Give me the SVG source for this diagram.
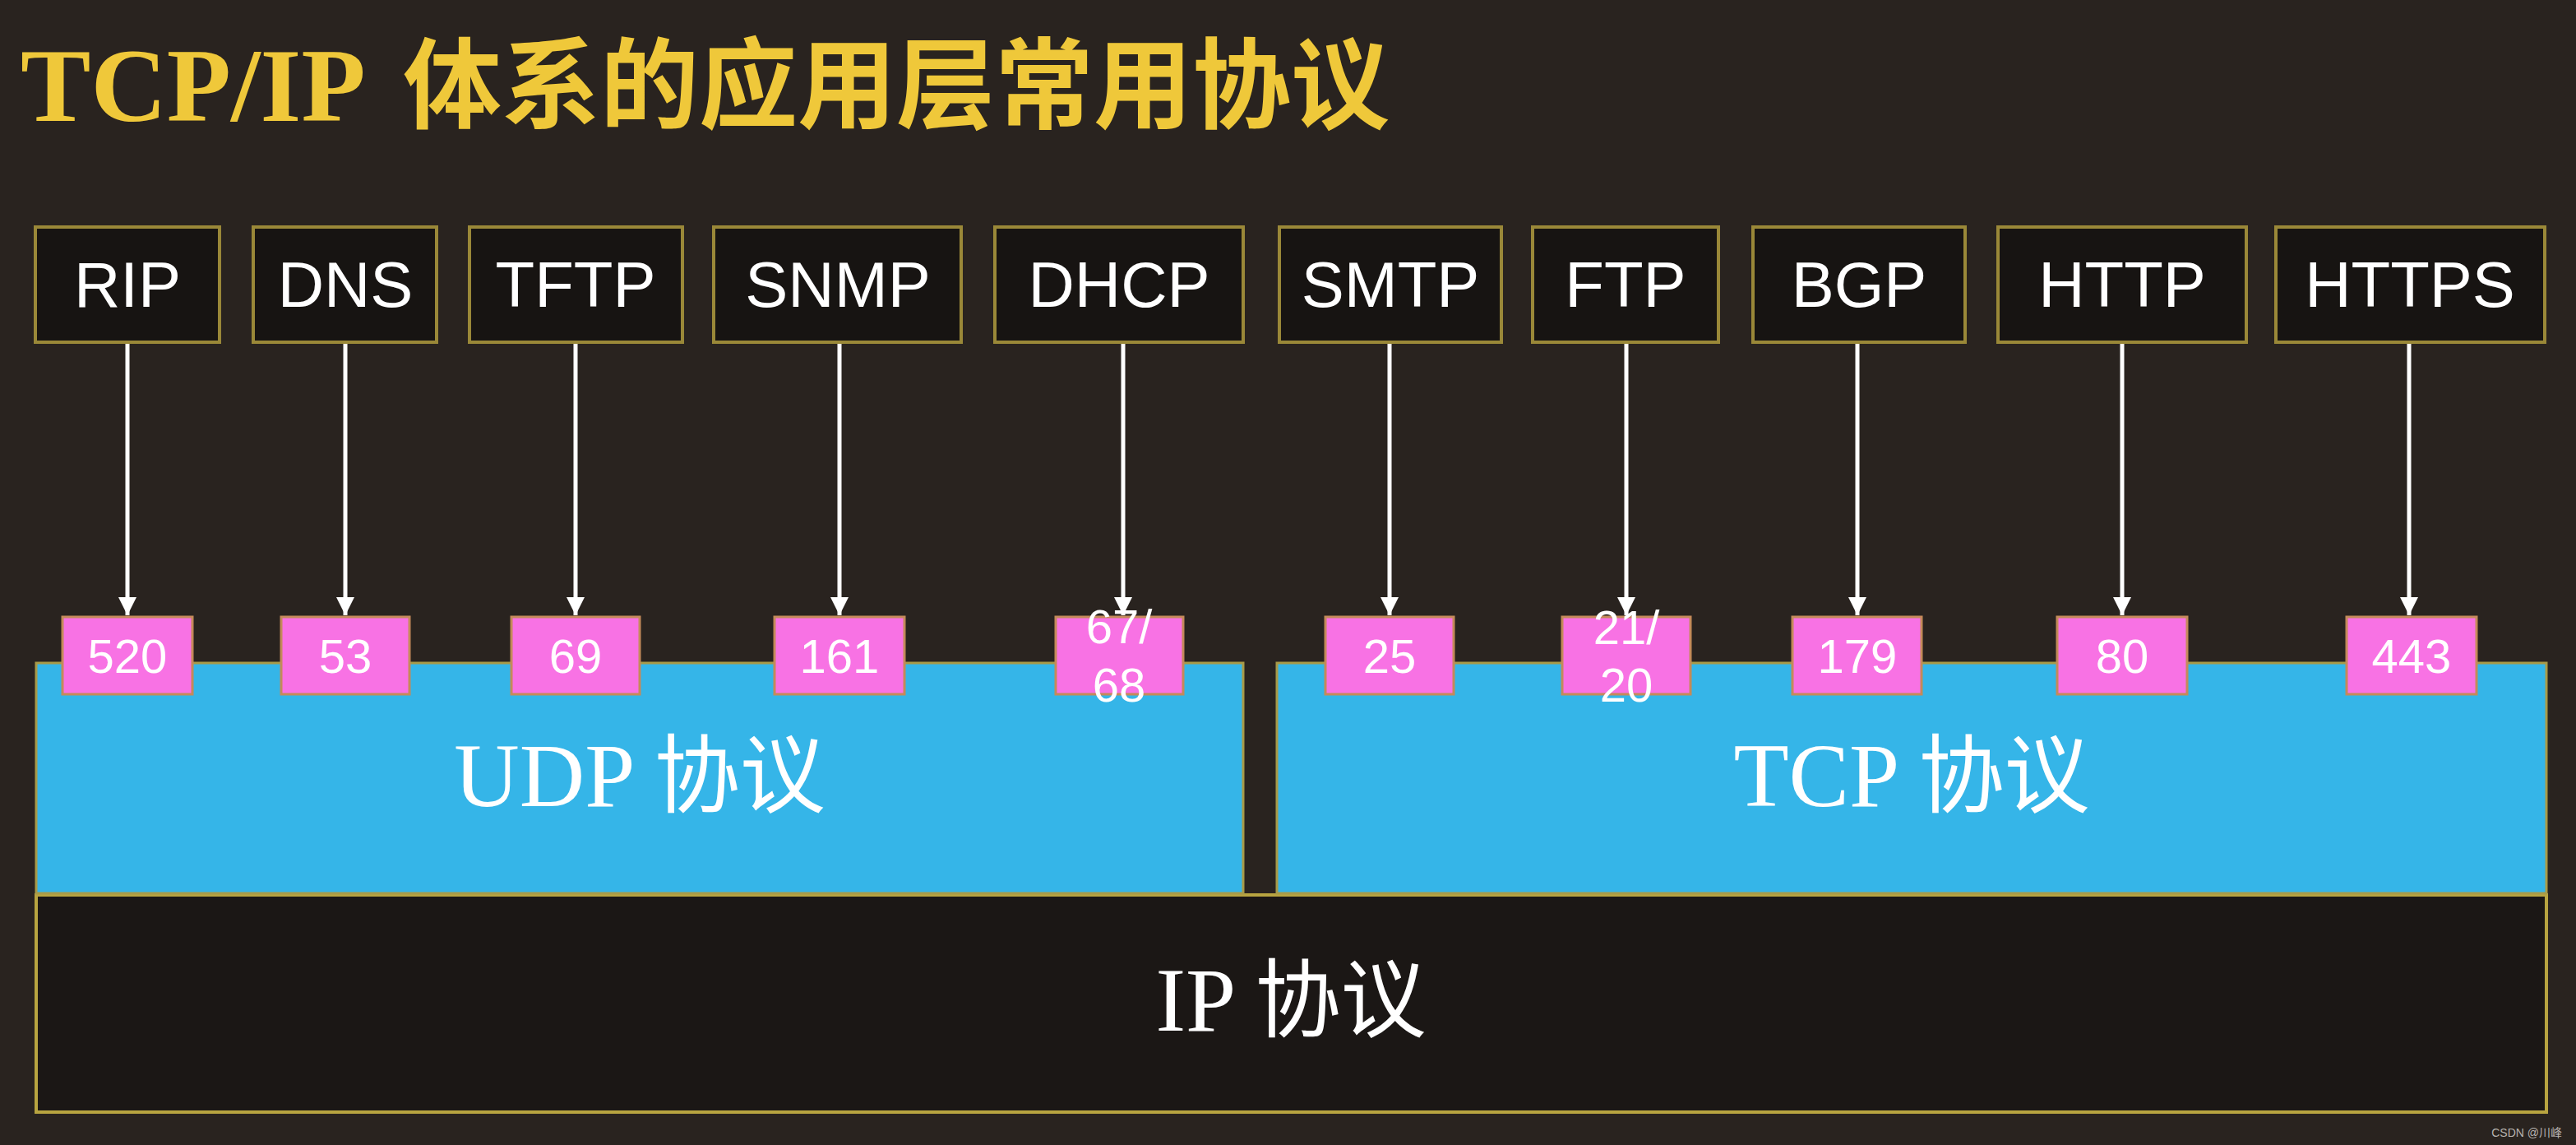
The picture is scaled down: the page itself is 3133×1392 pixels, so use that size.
<svg xmlns="http://www.w3.org/2000/svg" width="3133" height="1392" viewBox="0 0 3133 1392">
<defs>
<style>
.node rect{fill:#171412;stroke:#9a8838;stroke-width:4}
.node text{fill:#ffffff;font-family:"Liberation Sans",Arial,sans-serif;font-size:78px;text-anchor:middle}
.port rect{fill:#f872e4;stroke:#c48a5a;stroke-width:3}
.port text{fill:#ffffff;font-family:"Liberation Sans",Arial,sans-serif;font-size:58px;text-anchor:middle}
.layer{fill:#35b5e8;stroke:#a89a48;stroke-width:3}
.lbl{fill:#ffffff;font-family:"Liberation Serif","Noto Sans CJK SC",serif;font-size:110px;text-anchor:middle}
.cjk{font-family:"Noto Sans CJK SC",sans-serif;font-size:104px}
.conn line{stroke:#ffffff;stroke-width:5;marker-end:url(#ah)}
</style>
<marker id="ah" viewBox="0 0 10 10" refX="10" refY="5" markerWidth="4.4" markerHeight="4.4" markerUnits="strokeWidth" orient="auto">
<path d="M0,0 L10,5 L0,10 z" fill="#ffffff"/>
</marker>
</defs>
<rect width="3133" height="1392" fill="#29231f"/>
<g id="title">
<text x="25" y="147" fill="#efc83a" font-family="Liberation Serif,serif" font-weight="bold" font-size="128">TCP/IP<tspan x="490" font-family="Noto Sans CJK SC,sans-serif" font-size="120">体系的应用层常用协议</tspan></text>
</g>
<g id="ip-layer">
<rect x="44" y="1088" width="3053" height="264" fill="#1b1715" stroke="#b8a440" stroke-width="4"/>
<text class="lbl" x="1570" y="1253">IP <tspan class="cjk">协议</tspan></text>
</g>
<g id="udp-layer">
<rect class="layer" x="44" y="806" width="1468" height="280"/>
<text class="lbl" x="778" y="980">UDP <tspan class="cjk">协议</tspan></text>
</g>
<g id="tcp-layer">
<rect class="layer" x="1553" y="806" width="1544" height="280"/>
<text class="lbl" x="2325" y="980">TCP <tspan class="cjk">协议</tspan></text>
</g>
<g id="n-rip" class="node"><rect x="43" y="276" width="224" height="140"/><text x="155" y="373">RIP</text></g>
<g id="n-dns" class="node"><rect x="308" y="276" width="223" height="140"/><text x="420" y="373">DNS</text></g>
<g id="n-tftp" class="node"><rect x="571" y="276" width="259" height="140"/><text x="700" y="373">TFTP</text></g>
<g id="n-snmp" class="node"><rect x="868" y="276" width="301" height="140"/><text x="1019" y="373">SNMP</text></g>
<g id="n-dhcp" class="node"><rect x="1210" y="276" width="302" height="140"/><text x="1361" y="373">DHCP</text></g>
<g id="n-smtp" class="node"><rect x="1556" y="276" width="270" height="140"/><text x="1691" y="373">SMTP</text></g>
<g id="n-ftp" class="node"><rect x="1864" y="276" width="226" height="140"/><text x="1977" y="373">FTP</text></g>
<g id="n-bgp" class="node"><rect x="2132" y="276" width="258" height="140"/><text x="2261" y="373">BGP</text></g>
<g id="n-http" class="node"><rect x="2430" y="276" width="302" height="140"/><text x="2581" y="373">HTTP</text></g>
<g id="n-https" class="node"><rect x="2768" y="276" width="327" height="140"/><text x="2931" y="373">HTTPS</text></g>
<g id="connectors" class="conn">
<line x1="155" y1="418" x2="155" y2="748"/>
<line x1="420" y1="418" x2="420" y2="748"/>
<line x1="700" y1="418" x2="700" y2="748"/>
<line x1="1021" y1="418" x2="1021" y2="748"/>
<line x1="1366" y1="418" x2="1366" y2="748"/>
<line x1="1690" y1="418" x2="1690" y2="748"/>
<line x1="1978" y1="418" x2="1978" y2="748"/>
<line x1="2259" y1="418" x2="2259" y2="748"/>
<line x1="2581" y1="418" x2="2581" y2="748"/>
<line x1="2930" y1="418" x2="2930" y2="748"/>
</g>
<g id="p-520" class="port"><rect x="76" y="750" width="158" height="94"/><text x="155" y="818">520</text></g>
<g id="p-53" class="port"><rect x="342" y="750" width="156" height="94"/><text x="420" y="818">53</text></g>
<g id="p-69" class="port"><rect x="622" y="750" width="156" height="94"/><text x="700" y="818">69</text></g>
<g id="p-161" class="port"><rect x="942" y="750" width="158" height="94"/><text x="1021" y="818">161</text></g>
<g id="p-6768" class="port"><rect x="1284" y="750" width="155" height="94"/><text x="1361" y="782">67/</text><text x="1361" y="853">68</text></g>
<g id="p-25" class="port"><rect x="1612" y="750" width="156" height="94"/><text x="1690" y="818">25</text></g>
<g id="p-2120" class="port"><rect x="1900" y="750" width="156" height="94"/><text x="1978" y="783">21/</text><text x="1978" y="853">20</text></g>
<g id="p-179" class="port"><rect x="2180" y="750" width="157" height="94"/><text x="2259" y="818">179</text></g>
<g id="p-80" class="port"><rect x="2502" y="750" width="158" height="94"/><text x="2581" y="818">80</text></g>
<g id="p-443" class="port"><rect x="2854" y="750" width="158" height="94"/><text x="2933" y="818">443</text></g>
<text x="3116" y="1382" text-anchor="end" fill="#b8b4b0" font-family="Liberation Sans,Noto Sans CJK SC,sans-serif" font-size="14">CSDN @川峰</text>
</svg>
